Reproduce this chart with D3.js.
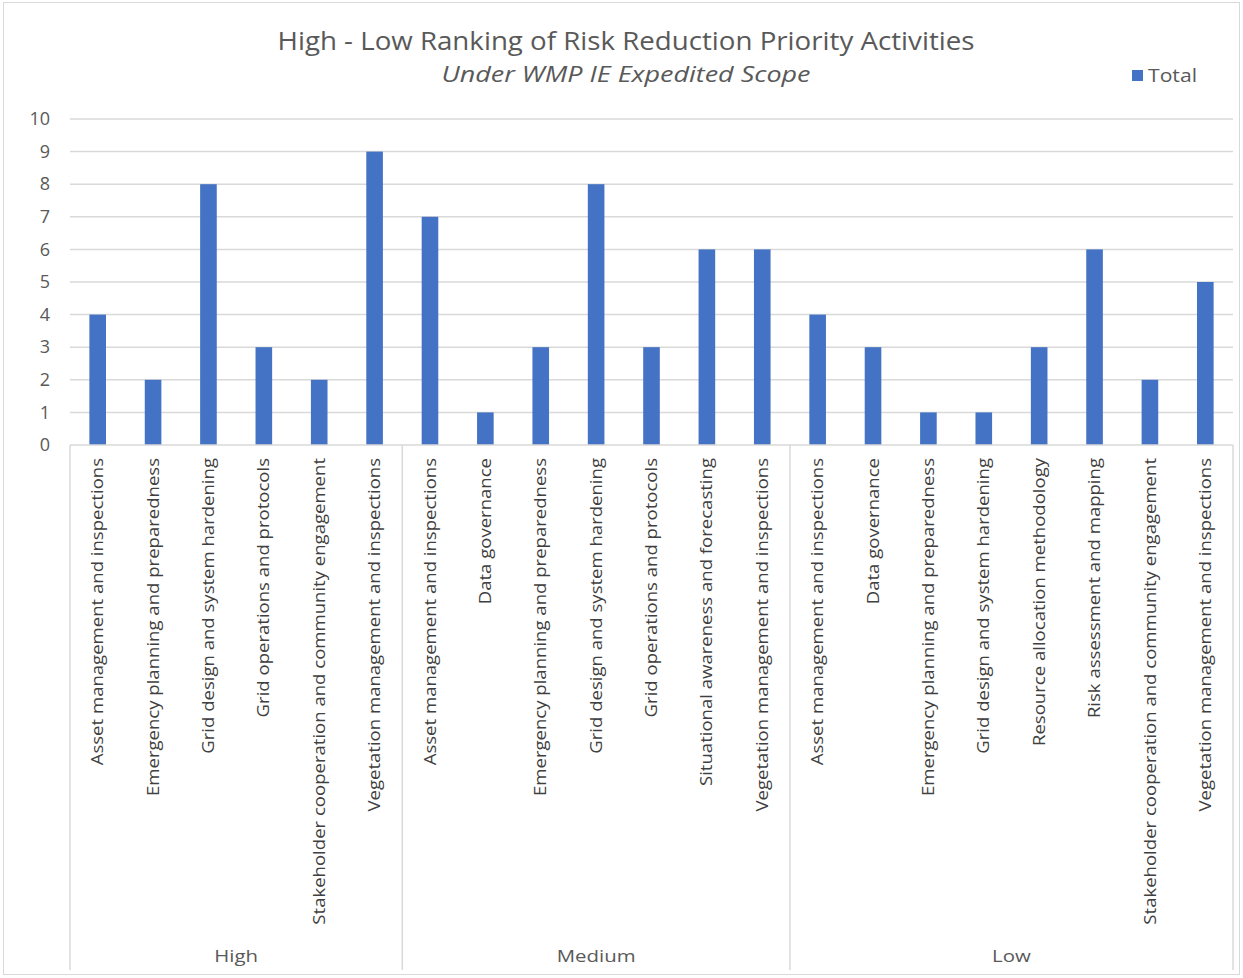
<!DOCTYPE html>
<html>
<head>
<meta charset="utf-8">
<script src="https://cdn.jsdelivr.net/npm/d3@7"></script>
<style>
body { margin: 0; background: #fff; }
text { font-family: "Open Sans", "Noto Sans", sans-serif; }
</style>
</head>
<body>
<script>
var width = 1243;
var height = 978;

var groups = ["High", "Medium", "Low"];
var highCats = ["Asset management and inspections", "Emergency planning and preparedness", "Grid design and system hardening", "Grid operations and protocols", "Stakeholder cooperation and community engagement", "Vegetation management and inspections"];
var highVals = [4, 2, 8, 3, 2, 9];
var mediumCats = ["Asset management and inspections", "Data governance", "Emergency planning and preparedness", "Grid design and system hardening", "Grid operations and protocols", "Situational awareness and forecasting", "Vegetation management and inspections"];
var mediumVals = [7, 1, 3, 8, 3, 6, 6];
var lowCats = ["Asset management and inspections", "Data governance", "Emergency planning and preparedness", "Grid design and system hardening", "Resource allocation methodology", "Risk assessment and mapping", "Stakeholder cooperation and community engagement", "Vegetation management and inspections"];
var lowVals = [4, 3, 1, 1, 3, 6, 2, 5];
var yTicks = [0, 1, 2, 3, 4, 5, 6, 7, 8, 9, 10];

var groupCats = [highCats, mediumCats, lowCats];
var groupVals = [highVals, mediumVals, lowVals];

// flatten into one list of bars
var data = [];
groupCats.forEach(function(cats, g) {
    cats.forEach(function(c, j) {
        data.push({ key: g + "-" + j, group: groups[g], cat: c, value: groupVals[g][j] });
    });
});

var plotLeft = 70, plotRight = 1233, plotTop = 119, plotBottom = 445;

var svg = d3.select("body")
    .append("svg")
    .attr("width", width)
    .attr("height", height);

svg.append("rect")
    .attr("x", 3.5).attr("y", 2.5)
    .attr("width", 1236).attr("height", 972)
    .attr("fill", "#fff")
    .attr("stroke", "#d9d9d9");

var x = d3.scaleBand()
    .domain(data.map(function(d) { return d.key; }))
    .range([plotLeft, plotRight])
    .paddingInner(0.7)
    .paddingOuter(0.35);

var y = d3.scaleLinear().domain([0, 10]).range([plotBottom, plotTop]);

// gridlines
svg.append("g").selectAll("line")
    .data(yTicks.slice(1))
    .enter().append("line")
    .attr("x1", plotLeft).attr("x2", plotRight)
    .attr("y1", function(d) { return y(d); })
    .attr("y2", function(d) { return y(d); })
    .attr("stroke", "#d9d9d9")
    .attr("stroke-width", 1.5);

// y labels
var yAxis = d3.axisLeft(y).tickValues(yTicks).tickSize(0).tickPadding(20);
var ya = svg.append("g").attr("transform", "translate(" + plotLeft + ",0)").call(yAxis);
ya.select(".domain").remove();
ya.selectAll("text").attr("font-size", 18).attr("fill", "#595959")
    .style("font-family", "'Open Sans', sans-serif");

// bars
svg.append("g").selectAll("rect")
    .data(data)
    .enter().append("rect")
    .attr("x", function(d) { return x(d.key); })
    .attr("width", x.bandwidth())
    .attr("y", function(d) { return y(d.value); })
    .attr("height", function(d) { return y(0) - y(d.value); })
    .attr("fill", "#4472C4");

// x axis line
svg.append("line")
    .attr("x1", plotLeft).attr("x2", plotRight)
    .attr("y1", plotBottom).attr("y2", plotBottom)
    .attr("stroke", "#d9d9d9").attr("stroke-width", 1.5);

// category labels (stretched along the text to match the wider original)
svg.append("g").selectAll("text")
    .data(data)
    .enter().append("text")
    .attr("transform", function(d) {
        return "translate(" + (x(d.key) + x.bandwidth() / 2) + "," + (plotBottom + 13) + ") rotate(-90) scale(1.16,1)";
    })
    .attr("text-anchor", "end")
    .attr("dy", "0.35em")
    .attr("font-size", 16)
    .attr("fill", "#404040")
    .text(function(d) { return d.cat; });

// group separators and labels
var bounds = [0];
groupCats.forEach(function(c) { bounds.push(bounds[bounds.length - 1] + c.length); });
var sepX = bounds.map(function(b) { return plotLeft + (plotRight - plotLeft) * b / data.length; });

svg.append("g").selectAll("line")
    .data(sepX)
    .enter().append("line")
    .attr("x1", function(d) { return d; })
    .attr("x2", function(d) { return d; })
    .attr("y1", plotBottom).attr("y2", 970)
    .attr("stroke", "#d9d9d9").attr("stroke-width", 1.5);

svg.append("g").selectAll("text")
    .data(groups)
    .enter().append("text")
    .attr("transform", function(d, i) { return "translate(" + ((sepX[i] + sepX[i + 1]) / 2) + ",962) scale(1.2,1)"; })
    .attr("text-anchor", "middle")
    .attr("font-size", 17)
    .attr("fill", "#595959")
    .text(function(d) { return d; });

// title
svg.append("text")
    .attr("x", 626).attr("y", 50)
    .attr("text-anchor", "middle")
    .attr("font-size", 25)
    .attr("textLength", 697)
    .attr("lengthAdjust", "spacingAndGlyphs")
    .attr("fill", "#595959")
    .text("High - Low Ranking of Risk Reduction Priority Activities");

svg.append("text")
    .attr("x", 626).attr("y", 82)
    .attr("text-anchor", "middle")
    .attr("font-size", 22)
    .attr("font-style", "italic")
    .attr("textLength", 369)
    .attr("lengthAdjust", "spacingAndGlyphs")
    .attr("fill", "#595959")
    .text("Under WMP IE Expedited Scope");

// legend
svg.append("rect")
    .attr("x", 1132).attr("y", 70)
    .attr("width", 11).attr("height", 11)
    .attr("fill", "#4472C4");
svg.append("text")
    .attr("x", 1148).attr("y", 82)
    .attr("font-size", 18)
    .attr("textLength", 49)
    .attr("lengthAdjust", "spacingAndGlyphs")
    .attr("fill", "#595959")
    .text("Total");
</script>
</body>
</html>
